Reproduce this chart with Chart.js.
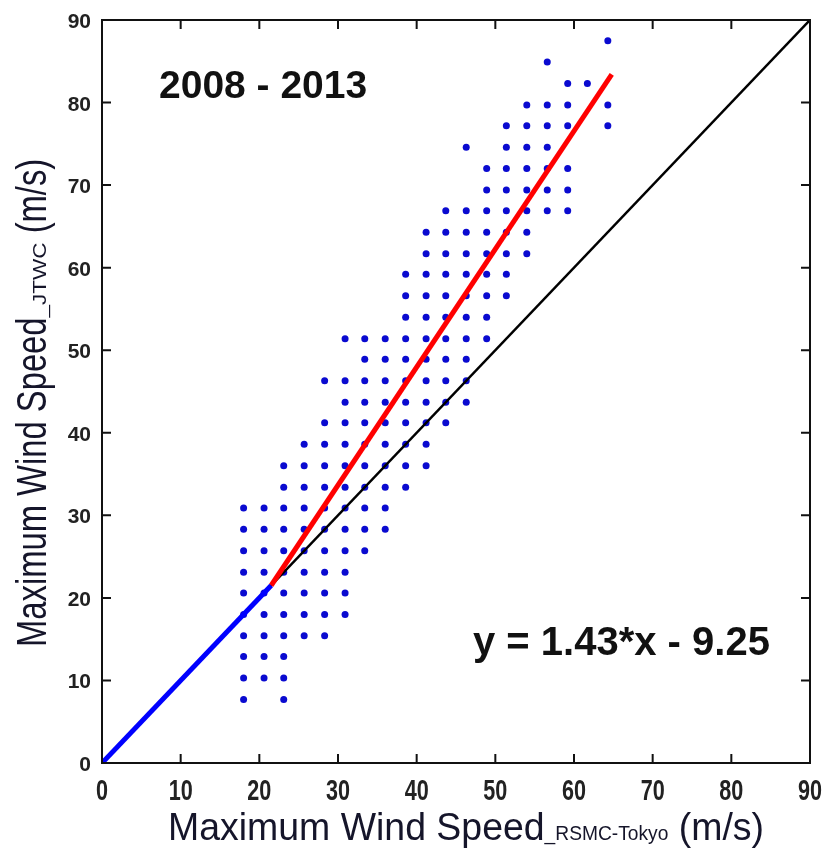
<!DOCTYPE html>
<html>
<head>
<meta charset="utf-8">
<script src="https://cdn.jsdelivr.net/npm/chart.js@4.4.0/dist/chart.umd.min.js"></script>
<style>
  body { margin: 0; background: #fff; }
  #wrap { width: 830px; height: 856px; }
</style>
</head>
<body>
<div id="wrap"><canvas id="myChart"></canvas></div>
<script>
// axis ticks (m/s)
var tickValues = [0, 10, 20, 30, 40, 50, 60, 70, 80, 90];

// JTWC wind speed rows (m/s) and the RSMC-Tokyo speeds found in each row
var rowY = [7.7, 10.3, 12.9, 15.4, 18.0, 20.6, 23.1, 25.7, 28.3, 30.9,
            33.4, 36.0, 38.6, 41.2, 43.7, 46.3, 48.9, 51.4, 54.0, 56.6,
            59.2, 61.7, 64.3, 66.9, 69.4, 72.0, 74.6, 77.2, 79.7, 82.3,
            84.9, 87.5];
var rowX = [
  [18.0, 23.1],
  [18.0, 20.6, 23.1],
  [18.0, 20.6, 23.1],
  [18.0, 20.6, 23.1, 25.7, 28.3],
  [18.0, 20.6, 23.1, 25.7, 28.3, 30.9],
  [18.0, 20.6, 23.1, 25.7, 28.3, 30.9],
  [18.0, 20.6, 23.1, 25.7, 28.3, 30.9],
  [18.0, 20.6, 23.1, 25.7, 28.3, 30.9, 33.4],
  [18.0, 20.6, 23.1, 25.7, 28.3, 30.9, 33.4, 36.0],
  [18.0, 20.6, 23.1, 25.7, 28.3, 30.9, 33.4, 36.0],
  [23.1, 25.7, 28.3, 30.9, 33.4, 36.0, 38.6],
  [23.1, 25.7, 28.3, 30.9, 33.4, 36.0, 38.6, 41.2],
  [25.7, 28.3, 30.9, 33.4, 36.0, 38.6, 41.2],
  [28.3, 30.9, 33.4, 36.0, 38.6, 41.2, 43.7],
  [30.9, 33.4, 36.0, 38.6, 41.2, 43.7, 46.3],
  [28.3, 30.9, 33.4, 36.0, 38.6, 41.2, 43.7, 46.3],
  [33.4, 36.0, 38.6, 41.2, 43.7, 46.3],
  [30.9, 33.4, 36.0, 38.6, 41.2, 43.7, 46.3, 48.9],
  [38.6, 41.2, 43.7, 46.3, 48.9],
  [38.6, 41.2, 43.7, 46.3, 48.9, 51.4],
  [38.6, 41.2, 43.7, 46.3, 48.9, 51.4],
  [41.2, 43.7, 46.3, 48.9, 51.4, 54.0],
  [41.2, 43.7, 46.3, 48.9, 51.4, 54.0],
  [43.7, 46.3, 48.9, 51.4, 54.0, 56.6, 59.2],
  [48.9, 51.4, 54.0, 56.6, 59.2],
  [48.9, 51.4, 54.0, 56.6, 59.2],
  [46.3, 51.4, 54.0, 56.6],
  [51.4, 54.0, 56.6, 59.2, 64.3],
  [54.0, 56.6, 59.2, 64.3],
  [59.2, 61.7],
  [56.6],
  [64.3]
];

// lines: 1:1 part below the crossing, regression, 1:1 reference
var blueX = [0, 21.5];
var blueY = [0, 21.5];
var redX = [21.5, 64.8];
var redY = [21.5, 83.4];
var refX = [0, 90];
var refY = [0, 90];

function toPoints(xs, ys) {
  var pts = [];
  for (var i = 0; i < xs.length; i++) pts.push({x: xs[i], y: ys[i]});
  return pts;
}

var dots = [];
for (var r = 0; r < rowY.length; r++) {
  for (var c = 0; c < rowX[r].length; c++) {
    dots.push({x: rowX[r][c], y: rowY[r]});
  }
}

function scaledText(ctx, text, x, y, font, sx) {
  ctx.save();
  ctx.translate(x, y);
  ctx.scale(sx, 1);
  ctx.font = font;
  ctx.fillText(text, 0, 0);
  ctx.restore();
}

// title pieces [text, font, stretch], drawn one after another along x
function titleRun(ctx, parts) {
  var pos = 0;
  for (var i = 0; i < parts.length; i++) {
    ctx.font = parts[i][1];
    ctx.save();
    ctx.translate(pos, 0);
    ctx.scale(parts[i][2], 1);
    ctx.fillText(parts[i][0], 0, 0);
    ctx.restore();
    pos += ctx.measureText(parts[i][0]).width * parts[i][2];
  }
}

var frame = {
  id: "frame",
  afterDraw: function(chart) {
    var ctx = chart.ctx;
    var xs = chart.scales.x, ys = chart.scales.y;
    var a = chart.chartArea;
    ctx.save();
    ctx.strokeStyle = "#111";
    ctx.lineWidth = 2;
    ctx.strokeRect(a.left, a.top, a.right - a.left, a.bottom - a.top);

    // inward ticks
    var tl = 9;
    ctx.beginPath();
    for (var i = 0; i < tickValues.length; i++) {
      var px = xs.getPixelForValue(tickValues[i]);
      ctx.moveTo(px, a.bottom); ctx.lineTo(px, a.bottom - tl);
      ctx.moveTo(px, a.top); ctx.lineTo(px, a.top + tl);
      var py = ys.getPixelForValue(tickValues[i]);
      ctx.moveTo(a.left, py); ctx.lineTo(a.left + tl, py);
      ctx.moveTo(a.right, py); ctx.lineTo(a.right - tl, py);
    }
    ctx.stroke();

    // tick labels
    ctx.fillStyle = "#222";
    ctx.textBaseline = "alphabetic";
    for (var j = 0; j < tickValues.length; j++) {
      ctx.textAlign = "center";
      scaledText(ctx, String(tickValues[j]), xs.getPixelForValue(tickValues[j]), a.bottom + 37,
        "bold 30px 'Liberation Sans', Arial, sans-serif", 0.72);
      ctx.textAlign = "right";
      ctx.font = "bold 21px 'Liberation Sans', Arial, sans-serif";
      ctx.fillText(String(tickValues[j]), a.left - 11, ys.getPixelForValue(tickValues[j]) + 8);
    }

    // axis titles
    ctx.fillStyle = "#15152a";
    ctx.textAlign = "left";
    ctx.save();
    ctx.translate(168, 840);
    titleRun(ctx, [
      ["Maximum Wind Speed", "39px 'Liberation Sans', Arial, sans-serif", 0.96],
      ["_RSMC-Tokyo", "20px 'Liberation Sans', Arial, sans-serif", 0.96],
      [" (m/s)", "39px 'Liberation Sans', Arial, sans-serif", 0.96]
    ]);
    ctx.restore();

    ctx.save();
    ctx.translate(46, 647);
    ctx.rotate(-Math.PI / 2);
    titleRun(ctx, [
      ["Maximum Wind Speed", "42px 'Liberation Sans', Arial, sans-serif", 0.78],
      ["_JTWC", "18px 'Liberation Sans', Arial, sans-serif", 1.25],
      [" (m/s)", "42px 'Liberation Sans', Arial, sans-serif", 0.78]
    ]);
    ctx.restore();

    // annotations
    ctx.fillStyle = "#111";
    ctx.font = "bold 39px 'Liberation Sans', Arial, sans-serif";
    ctx.fillText("2008 - 2013", 159, 98);
    ctx.font = "bold 40px 'Liberation Sans', Arial, sans-serif";
    ctx.fillText("y = 1.43*x - 9.25", 473, 655);
    ctx.restore();
  }
};

new Chart("myChart", {
  type: "scatter",
  data: {
    datasets: [
      {
        data: toPoints(blueX, blueY),
        showLine: true, borderColor: "#0000ff", borderWidth: 5,
        pointRadius: 0
      },
      {
        data: toPoints(redX, redY),
        showLine: true, borderColor: "#ff0000", borderWidth: 5,
        pointRadius: 0
      },
      {
        data: toPoints(refX, refY),
        showLine: true, borderColor: "#000000", borderWidth: 2.5,
        pointRadius: 0
      },
      {
        data: dots,
        backgroundColor: "#0a0ad0", borderWidth: 0,
        pointRadius: 3.5
      }
    ]
  },
  options: {
    responsive: true,
    maintainAspectRatio: false,
    animation: false,
    layout: { padding: { left: 102, right: 20, top: 20, bottom: 93 } },
    plugins: { legend: { display: false }, tooltip: { enabled: false } },
    scales: {
      x: { display: false, min: 0, max: 90 },
      y: { display: false, min: 0, max: 90 }
    }
  },
  plugins: [frame]
});
</script>
</body>
</html>
